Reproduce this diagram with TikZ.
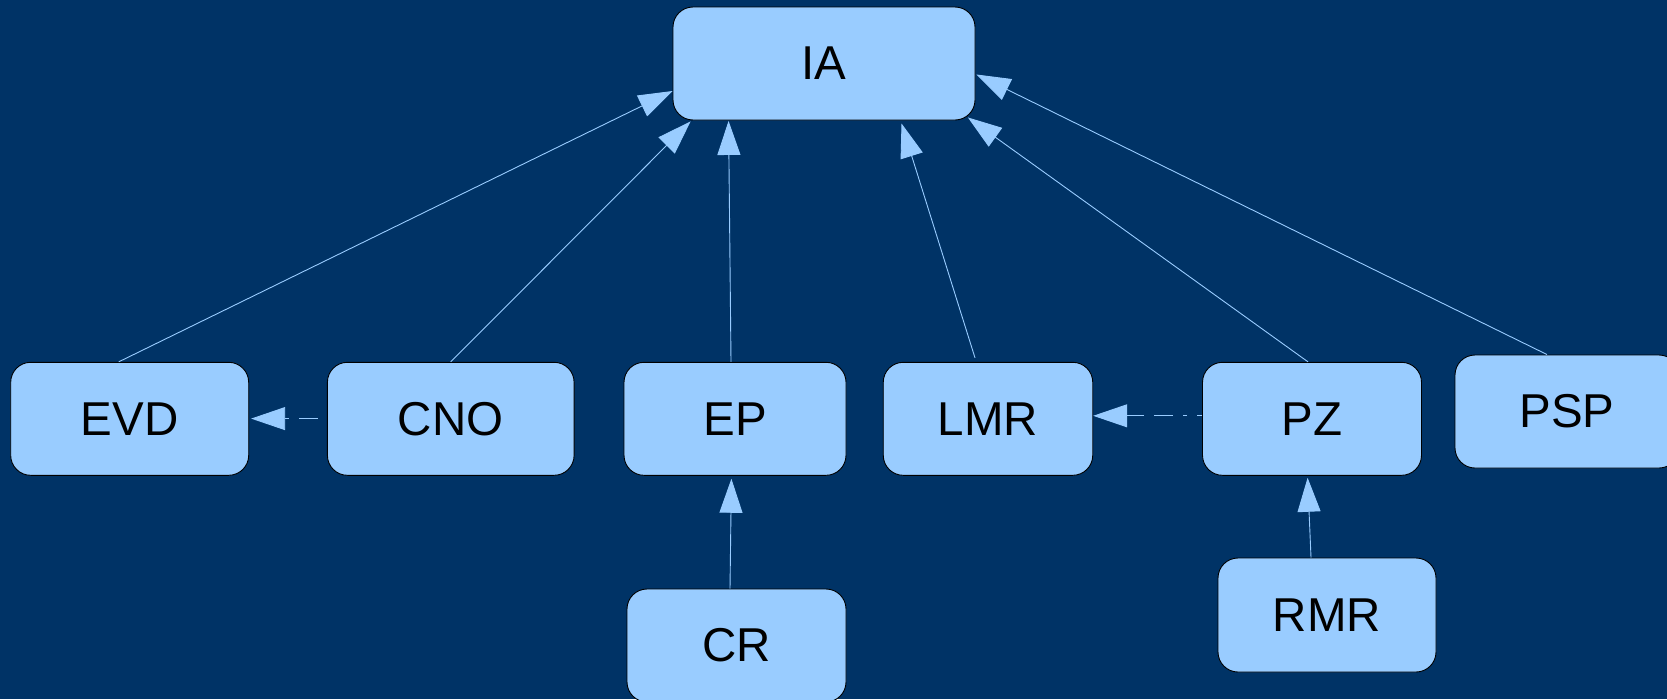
\documentclass[tikz,border=0pt]{standalone}
\usepackage{fontspec}
\setmainfont{Liberation Sans}
\usetikzlibrary{arrows.meta}
\definecolor{bgblue}{HTML}{003366}
\definecolor{boxblue}{HTML}{99CCFF}
\tikzset{
  box/.style={draw=black, line width=0.9pt, fill=boxblue, rounded corners=20pt,
    inner sep=0pt, minimum height=113pt, text=black,
    font=\fontsize{47.5}{56}\selectfont},
  conn/.style={draw=boxblue, line width=0.9pt,
    -{Triangle[length=34pt,width=23pt,fill=boxblue]}},
  dconn/.style={conn, dash pattern=on 19pt off 10pt on 19pt off 10pt on 4pt off 10pt}
}
\begin{document}
\begin{tikzpicture}[x=1pt,y=-1pt]
\fill[bgblue] (0,0) rectangle (1667,699);
\useasboundingbox (0,0) rectangle (1667,699);
\clip (0,0) rectangle (1667,699);

\node[box, minimum width=302pt] (IA) at (824,63.5) {IA};
\node[box, minimum width=238pt] (EVD) at (129.7,418.8) {EVD};
\node[box, minimum width=246.7pt] (CNO) at (450.75,418.8) {CNO};
\node[box, minimum width=222pt] (EP) at (735,418.8) {EP};
\node[box, minimum width=209.5pt] (LMR) at (988,418.8) {LMR};
\node[box, minimum width=219pt] (PZ) at (1312,418.8) {PZ};
\node[box, minimum width=224pt] (PSP) at (1567,411.5) {PSP};
\node[box, minimum width=219pt] (CR) at (736.5,645.5) {CR};
\node[box, minimum width=218pt, minimum height=114pt] (RMR) at (1327,615) {RMR};

\draw[conn] ([xshift=-11pt]EVD.north) -- ([yshift=-27.5pt]IA.west);
\draw[conn] (CNO.north) -- ([xshift=18pt,yshift=-1pt]IA.south west);
\draw[conn] ([xshift=-4pt]EP.north) -- ([xshift=56pt,yshift=-0.5pt]IA.south west);
\draw[conn] ([xshift=-13pt,yshift=4pt]LMR.north) -- ([xshift=77.5pt,yshift=-3pt]IA.south);
\draw[conn] ([xshift=-4pt]PZ.north) -- ([xshift=-7.6pt,yshift=3pt]IA.south east);
\draw[conn] ([xshift=-20pt]PSP.north) -- ([xshift=1pt,yshift=-11pt]IA.east);
\draw[conn] ([xshift=-6.5pt]CR.north) -- ([xshift=-3.6pt,yshift=-3pt]EP.south);
\draw[conn] ([xshift=-16pt]RMR.north) -- ([xshift=-4.4pt,yshift=-2pt]PZ.south);

\draw[dconn, dash phase=63pt] ([yshift=0.2pt]CNO.west) -- ([xshift=2pt,yshift=0.2pt]EVD.east);
\draw[dconn, dash phase=43pt] ([yshift=3pt]PZ.west) -- ([yshift=3pt]LMR.east);
\end{tikzpicture}
\end{document}
